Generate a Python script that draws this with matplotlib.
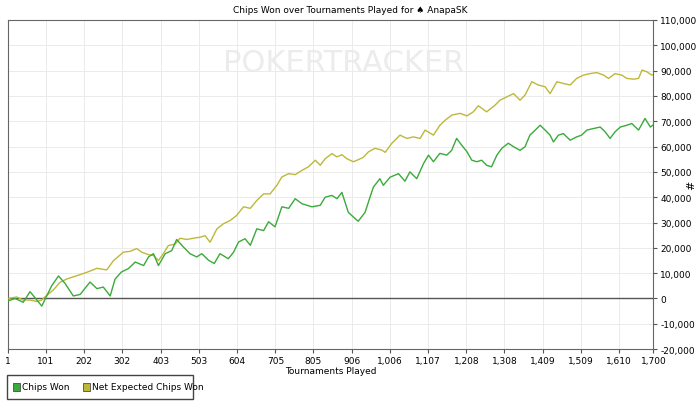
import matplotlib
matplotlib.use("Agg")
import matplotlib.pyplot as plt
from matplotlib.patches import Rectangle

TICK_POS = [1, 101, 202, 302, 403, 503, 604, 705, 805, 906, 1006, 1107, 1208, 1308, 1409, 1509, 1610, 1700]
TICK_LABELS = ["1", "101", "202", "302", "403", "503", "604", "705", "805", "906", "1,006", "1,107",
               "1,208", "1,308", "1,409", "1,509", "1,610", "1,700"]

WON_T = [2, 20, 41, 59, 77, 90, 103, 116, 134, 151, 173, 191, 217, 235, 252, 270, 283, 300, 318, 336,
         358, 371, 384, 397, 415, 432, 445, 463, 480, 498, 511, 529, 544, 559, 581, 595, 608, 625, 639,
         656, 674, 687, 704, 722, 740, 757, 775, 801, 823, 836, 854, 867, 880, 884, 897, 910, 923, 941,
         954, 963, 980, 989, 1007, 1029, 1046, 1059, 1077, 1095, 1108, 1121, 1138, 1156, 1169, 1182,
         1195, 1209, 1222, 1235, 1248, 1261, 1274, 1288, 1301, 1318, 1332, 1349, 1362, 1375, 1389,
         1402, 1415, 1428, 1437, 1450, 1463, 1481, 1498, 1511, 1525, 1542, 1560, 1573, 1586, 1599,
         1613, 1630, 1643, 1661, 1678, 1692, 1700]
WON_V = [-900, 0, -1500, 2700, -600, -3000, 1000, 5000, 8900, 6000, 1000, 1600, 6500, 3900, 4500, 1000,
         7700, 10500, 11800, 14400, 13000, 16400, 17700, 13000, 17700, 18900, 23300, 20300, 17700, 16400,
         17700, 15100, 13800, 17700, 15700, 18300, 22300, 23600, 21000, 27500, 26800, 30300, 28300, 36200,
         35600, 39400, 37400, 36200, 36800, 40000, 40700, 39400, 41900, 40000, 34000, 32200, 30500, 34000,
         40000, 44000, 47300, 44700, 47900, 49300, 46300, 50000, 47300, 53300, 56600, 54000, 57300, 56600,
         58500, 63200, 60600, 58000, 54600, 54000, 54600, 52600, 52000, 56600, 59300, 61300, 59900, 58500,
         59900, 64500, 66500, 68400, 66500, 64500, 61800, 64500, 65100, 62500, 63800, 64500, 66500, 67100,
         67700, 65800, 63200, 65800, 67700, 68400, 69100, 66500, 71100, 67700, 68600]

EXP_T = [2, 24, 41, 59, 77, 90, 103, 120, 138, 156, 182, 208, 235, 261, 279, 305, 322, 340, 353, 371,
         384, 397, 410, 423, 441, 454, 472, 489, 507, 520, 533, 551, 568, 586, 603, 621, 639, 656, 674,
         691, 709, 722, 740, 757, 775, 792, 810, 823, 836, 854, 867, 880, 893, 910, 923, 936, 950, 967,
         985, 994, 1011, 1033, 1051, 1068, 1086, 1099, 1121, 1138, 1152, 1169, 1191, 1209, 1226, 1239,
         1261, 1283, 1296, 1314, 1332, 1349, 1362, 1380, 1397, 1415, 1428, 1446, 1463, 1481, 1498, 1516,
         1533, 1551, 1569, 1582, 1599, 1617, 1630, 1648, 1661, 1670, 1683, 1696, 1700]
EXP_V = [0, 600, -600, -600, -1200, -600, 1300, 3300, 6400, 7700, 9000, 10300, 11900, 11300, 15000, 18300,
         18600, 19700, 18300, 17300, 17000, 15000, 17700, 20900, 21500, 23800, 23300, 23800, 24200, 24800,
         22200, 27500, 29500, 30800, 32800, 36200, 35600, 38700, 41300, 41300, 44700, 48000, 49300, 48900,
         50600, 52000, 54600, 52600, 55200, 57200, 55900, 56800, 55200, 54000, 54800, 55700, 57900, 59300,
         58600, 57700, 61200, 64500, 63200, 63800, 63200, 66500, 64500, 68400, 70400, 72400, 73100, 72100,
         73700, 76100, 73700, 76300, 78300, 79600, 80900, 78300, 80300, 85600, 84300, 83600, 80900, 85600,
         84900, 84300, 86900, 88200, 88800, 89200, 88200, 86900, 88800, 88200, 86900, 86600, 86900, 90200,
         89500, 88200, 88500]

GREEN = "#3aaa3a"
YELLOW = "#bdb83a"

fig = plt.figure(figsize=(7, 4.02), dpi=100)
ax = fig.add_axes([0.0114, 0.129, 0.922, 0.819])

ax.plot(EXP_T, EXP_V, color=YELLOW, linewidth=1, zorder=3)
ax.plot(WON_T, WON_V, color=GREEN, linewidth=1, zorder=4)
ax.axhline(0, color="#555555", linewidth=1, zorder=2)

ax.set_xlim(1, 1700)
ax.set_ylim(-20000, 110000)
ax.set_xticks(TICK_POS)
ax.set_xticklabels(TICK_LABELS, fontsize=6.5)
ax.set_yticks(range(-20000, 110001, 10000))
ax.set_yticklabels([f"{v:,}" for v in range(-20000, 110001, 10000)], fontsize=6.5)
ax.yaxis.tick_right()
ax.tick_params(axis="both", length=3, color="#555555", pad=2)
ax.grid(True, color="#ebebeb", linewidth=0.7, zorder=0)
for s in ax.spines.values():
    s.set_color("#666666")
ax.set_xlabel("Tournaments Played", fontsize=6.5, labelpad=1)

fig.text(0.5, 0.985, "Chips Won over Tournaments Played for \u2660 AnapaSK", ha="center", va="top", fontsize=6.5)
fig.text(0.994, 0.54, "#", ha="right", va="center", fontsize=8, rotation=90)
ax.text(0.52, 0.87, "POKERTRACKER", transform=ax.transAxes, ha="center", va="center",
        fontsize=22, color="#ececec", zorder=1)

# legend box
fig.patches.append(Rectangle((0.010, 0.005), 0.266, 0.06, transform=fig.transFigure,
                             facecolor="white", edgecolor="#444444", linewidth=1))
fig.patches.append(Rectangle((0.018, 0.025), 0.010, 0.019, transform=fig.transFigure,
                             facecolor=GREEN, edgecolor="#333333", linewidth=0.5))
fig.text(0.032, 0.035, "Chips Won", fontsize=6.5, va="center")
fig.patches.append(Rectangle((0.118, 0.025), 0.010, 0.019, transform=fig.transFigure,
                             facecolor=YELLOW, edgecolor="#333333", linewidth=0.5))
fig.text(0.132, 0.035, "Net Expected Chips Won", fontsize=6.5, va="center")

fig.savefig("out.png", dpi=100)
